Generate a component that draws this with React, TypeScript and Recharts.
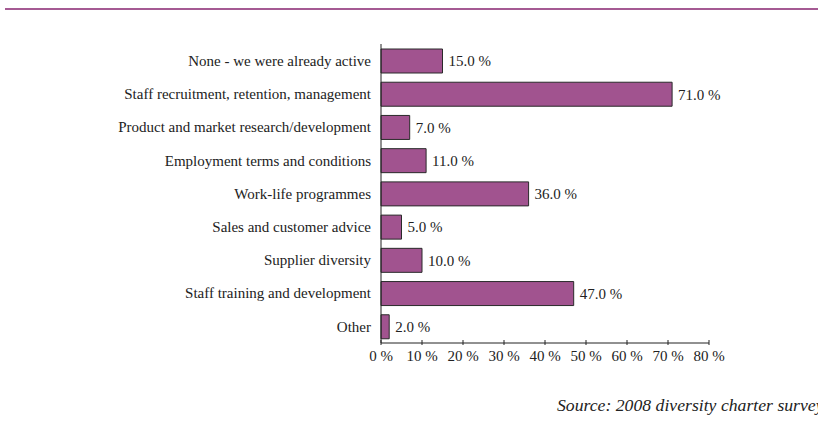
import { BarChart, Bar, XAxis, YAxis, LabelList } from "recharts"

const categories = [
  "None - we were already active",
  "Staff recruitment, retention, management",
  "Product and market research/development",
  "Employment terms and conditions",
  "Work-life programmes",
  "Sales and customer advice",
  "Supplier diversity",
  "Staff training and development",
  "Other",
]
const shares = [15, 71, 7, 11, 36, 5, 10, 47, 2]
const xTicks = [0, 10, 20, 30, 40, 50, 60, 70, 80]

const data = categories.map((name, i) => ({ name, value: shares[i] }))

const FONT = "'Liberation Serif', 'Times New Roman', serif"

function XTick(props: any) {
  const { x, y, payload } = props
  return (
    <g>
      <line x1={x} x2={x} y1={y} y2={y - 5} stroke="#222" strokeWidth={1} />
      <text x={x} y={y + 16} textAnchor="middle" fontSize={15} fontFamily={FONT} fill="#222">
        {payload.value} %
      </text>
    </g>
  )
}

export default function App() {
  return (
    <div style={{ position: "absolute", left: 0, top: 0, width: 818, height: 429, background: "#fff" }}>
      <svg width={818} height={429} style={{ position: "absolute", left: 0, top: 0 }}>
        <line x1={5} x2={818} y1={9} y2={9} stroke="#a55a93" strokeWidth={2} />
        <text
          x={557}
          y={411}
          fontSize={17.7}
          fontStyle="italic"
          fontFamily={FONT}
          fill="#222"
        >
          Source: 2008 diversity charter survey
        </text>
      </svg>
      <div style={{ position: "absolute", left: 0, top: 0 }}>
        <BarChart
          width={818}
          height={429}
          data={data}
          layout="vertical"
          margin={{ top: 44, right: 109, bottom: 56, left: 0 }}
          barSize={24}
        >
          <XAxis
            type="number"
            domain={[0, 80]}
            ticks={xTicks}
            interval={0}
            tickSize={0}
            tickLine={false}
            tick={<XTick />}
            axisLine={{ stroke: "#222" }}
            height={30}
          />
          <YAxis
            type="category"
            dataKey="name"
            width={381}
            tickLine={false}
            tickMargin={4}
            axisLine={{ stroke: "#222" }}
            tick={{ fontSize: 15, fontFamily: FONT, fill: "#222" }}
            interval={0}
          />
          <Bar dataKey="value" fill="#a1538f" stroke="#2a2a2a" strokeWidth={1} isAnimationActive={false}>
            <LabelList
              dataKey="value"
              position="right"
              offset={6}
              formatter={(v: any) => `${Number(v).toFixed(1)} %`}
              style={{ fontSize: 15, fontFamily: FONT, fill: "#222" }}
            />
          </Bar>
        </BarChart>
      </div>
    </div>
  )
}
